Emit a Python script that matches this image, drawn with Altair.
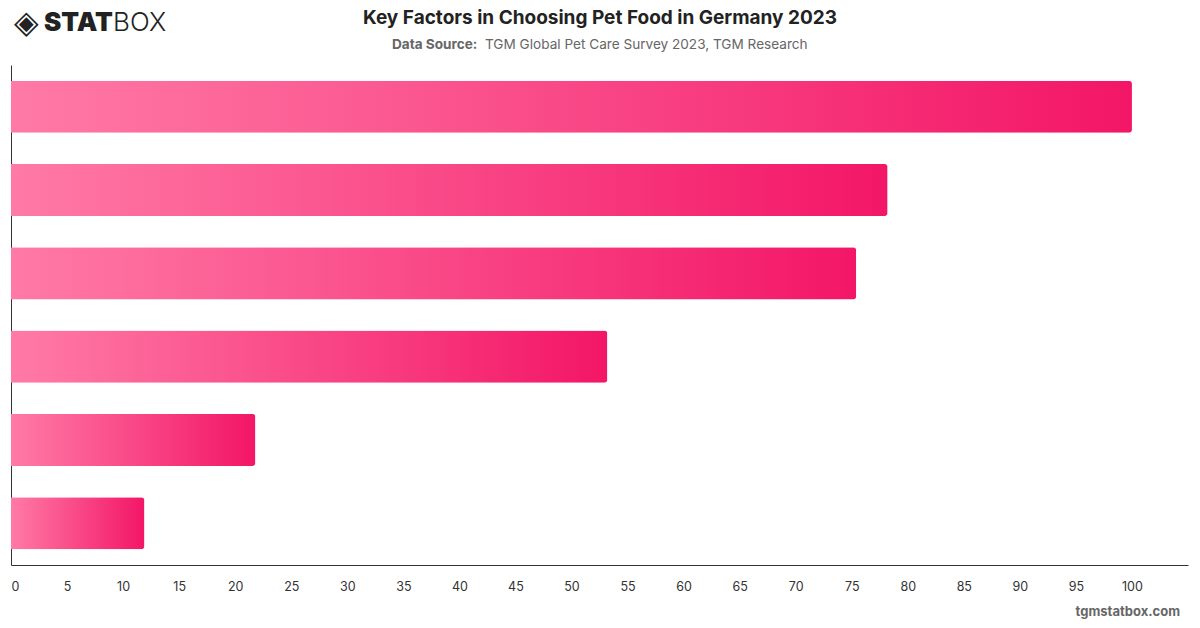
import altair as alt
import pandas as pd

# Data (category labels are hidden in the reference)
factors = ["Factor 1", "Factor 2", "Factor 3", "Factor 4", "Factor 5", "Factor 6"]
values = [100, 78.2, 75.4, 53.2, 21.8, 11.9]
tick_values = list(range(0, 101, 5))

df = pd.DataFrame({"factor": factors, "value": values})

FONT = "Inter"

bars = alt.Chart(df).mark_bar(
    cornerRadiusTopRight=3,
    cornerRadiusBottomRight=3,
    fill=alt.Gradient(
        gradient="linear",
        x1=0, x2=1, y1=0, y2=0,
        stops=[
            alt.GradientStop(offset=0, color="#ff7aa6"),
            alt.GradientStop(offset=1, color="#f31667"),
        ],
    ),
).encode(
    x=alt.X(
        "value:Q",
        scale=alt.Scale(domain=[0, 105], nice=False, zero=True),
        axis=alt.Axis(
            values=tick_values,
            title=None,
            grid=False,
            ticks=False,
            labelPadding=15,
            labelFontSize=12.5,
            labelColor="#333333",
            labelFont=FONT,
            domainColor="#333333",
            labelFlush=True,
        ),
    ),
    y=alt.Y(
        "factor:N",
        sort=factors,
        scale=alt.Scale(paddingInner=0.375, paddingOuter=0.19),
        axis=alt.Axis(
            title=None, labels=False, ticks=False, grid=False, domainColor="#333333"
        ),
    ),
)

# Header / footer texts positioned in pixel space relative to plot origin (11, 65)
def txt(text, x, y, size, weight="normal", color="#222222", align="left", font=FONT):
    return alt.Chart(pd.DataFrame({"t": [text]})).mark_text(
        align=align, baseline="alphabetic", fontSize=size, fontWeight=weight,
        color=color, font=font,
    ).encode(text="t:N", x=alt.value(x), y=alt.value(y))

title = txt("Key Factors in Choosing Pet Food in Germany 2023", 589, 24 - 65, 19,
            weight="bold", color="#222222", align="center")
sub_bold = txt("Data Source:", 381, 49 - 65, 13.6, weight="bold", color="#666666")
sub_rest = txt("TGM Global Pet Care Survey 2023, TGM Research", 474, 49 - 65, 13.6,
               color="#666666")
logo_icon = txt("◈", 3, 33 - 65, 32, weight="bold", color="#222222", font="DejaVu Sans")
logo_stat = txt("STAT", 33, 31 - 65, 26, weight=900, color="#222222")
logo_box = txt("BOX", 102, 31 - 65, 26, weight=300, color="#222222")
footer = txt("tgmstatbox.com", 1169, 616 - 65, 13, weight="bold", color="#666666",
             align="right")

chart = alt.layer(
    bars, title, sub_bold, sub_rest, logo_icon, logo_stat, logo_box, footer
).properties(
    width=1177,
    height=500,
    autosize=alt.AutoSizeParams(type="none"),
    padding={"left": 11, "top": 65, "right": 12, "bottom": 63},
    background="white",
).configure_view(stroke=None)

chart.save("out.html", embed_options={"renderer": "svg", "actions": False})
